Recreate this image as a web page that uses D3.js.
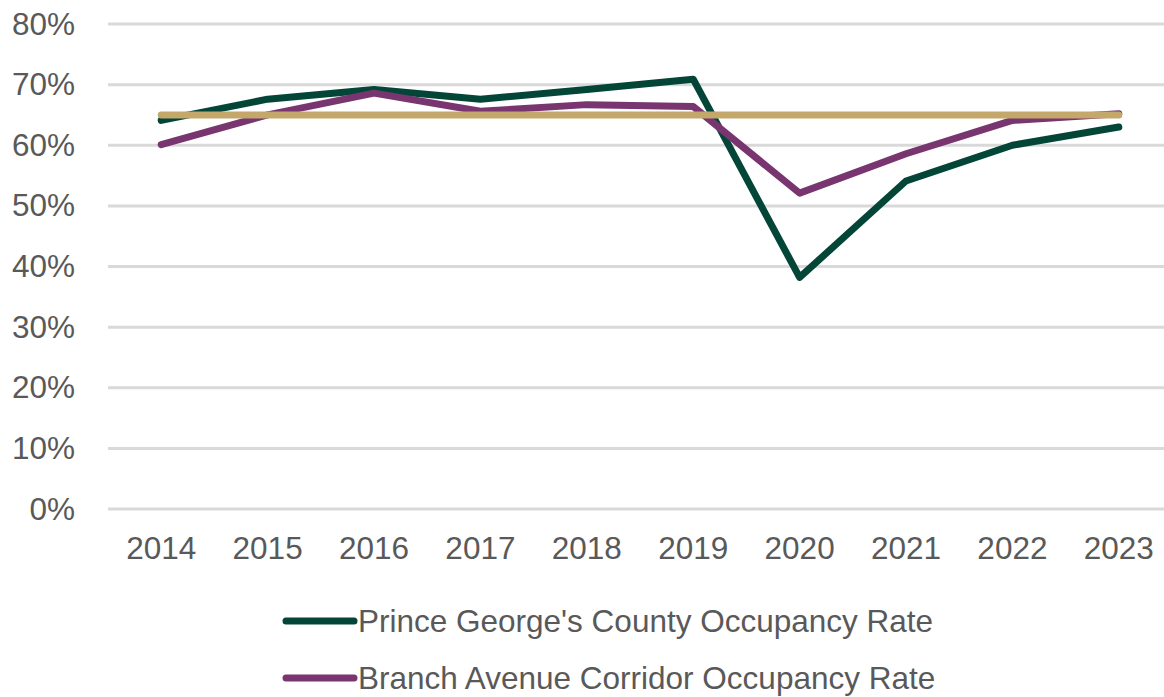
<!DOCTYPE html>
<html>
<head>
  <meta charset="utf-8">
  <title>Occupancy Rate</title>
  <script src="https://d3js.org/d3.v7.min.js"></script>
  <style>
    body { margin: 0; background: #fff; }
    text { font-family: "Liberation Sans", Arial, sans-serif; fill: #595959; }
  </style>
</head>
<body>
  <div id="chart"></div>
  <script>
    // categories and values
    var years = ['2014', '2015', '2016', '2017', '2018', '2019', '2020', '2021', '2022', '2023'];
    var countyRate = [0.641, 0.676, 0.692, 0.676, 0.692, 0.709, 0.382, 0.541, 0.600, 0.630];
    var corridorRate = [0.601, 0.650, 0.686, 0.656, 0.667, 0.664, 0.521, 0.586, 0.641, 0.652];
    var benchmarkRate = [0.65, 0.65, 0.65, 0.65, 0.65, 0.65, 0.65, 0.65, 0.65, 0.65];
    var yTicks = [0, 0.1, 0.2, 0.3, 0.4, 0.5, 0.6, 0.7, 0.8];

    var series = [
      { name: "Prince George's County Occupancy Rate", values: countyRate, color: '#034638', legend: true },
      { name: 'Branch Avenue Corridor Occupancy Rate', values: corridorRate, color: '#78356f', legend: true },
      { name: 'Benchmark', values: benchmarkRate, color: '#c4a76a', legend: false }
    ];

    var W = 1164, H = 697;
    var margin = { top: 24, right: -8, bottom: 188, left: 108 };
    var width = W - margin.left - margin.right;
    var height = H - margin.top - margin.bottom;
    var fontSize = '31.5px';

    var svg = d3.select('#chart').append('svg')
      .attr('width', W)
      .attr('height', H);

    var g = svg.append('g')
      .attr('transform', 'translate(' + margin.left + ',' + margin.top + ')');

    var x = d3.scaleBand().domain(years).range([0, width]);
    var y = d3.scaleLinear().domain([0, 0.8]).range([height, 0]);

    // gridlines
    g.append('g')
      .selectAll('line')
      .data(yTicks)
      .enter().append('line')
        .attr('x1', 0)
        .attr('x2', width)
        .attr('y1', function (d) { return y(d); })
        .attr('y2', function (d) { return y(d); })
        .attr('stroke', '#d9d9d9')
        .attr('stroke-width', 3);

    // y axis labels
    var yAxis = d3.axisLeft(y).tickValues(yTicks).tickFormat(d3.format('.0%')).tickSize(0).tickPadding(33);
    var yg = g.append('g').call(yAxis);
    yg.select('.domain').remove();
    yg.selectAll('text').style('font-size', fontSize).attr('fill', '#595959');

    // x axis labels
    var xAxis = d3.axisBottom(x).tickSize(0).tickPadding(28);
    var xg = g.append('g').attr('transform', 'translate(0,' + height + ')').call(xAxis);
    xg.select('.domain').remove();
    xg.selectAll('text').style('font-size', fontSize).attr('fill', '#595959');

    // lines
    var line = d3.line()
      .x(function (d, i) { return x(years[i]) + x.bandwidth() / 2; })
      .y(function (d) { return y(d); });

    g.selectAll('.series')
      .data(series)
      .enter().append('path')
        .attr('class', 'series')
        .attr('d', function (s) { return line(s.values); })
        .attr('fill', 'none')
        .attr('stroke', function (s) { return s.color; })
        .attr('stroke-width', 7)
        .attr('stroke-linecap', 'round')
        .attr('stroke-linejoin', 'round');

    // legend
    var legend = svg.append('g')
      .selectAll('g')
      .data(series.filter(function (s) { return s.legend; }))
      .enter().append('g')
        .attr('transform', function (s, i) { return 'translate(286,' + (621 + i * 57) + ')'; });

    legend.append('line')
      .attr('x1', 0)
      .attr('x2', 68)
      .attr('stroke', function (s) { return s.color; })
      .attr('stroke-width', 7)
      .attr('stroke-linecap', 'round');

    legend.append('text')
      .attr('x', 72)
      .attr('dy', '0.35em')
      .style('font-size', fontSize)
      .text(function (s) { return s.name; });
  </script>
</body>
</html>
